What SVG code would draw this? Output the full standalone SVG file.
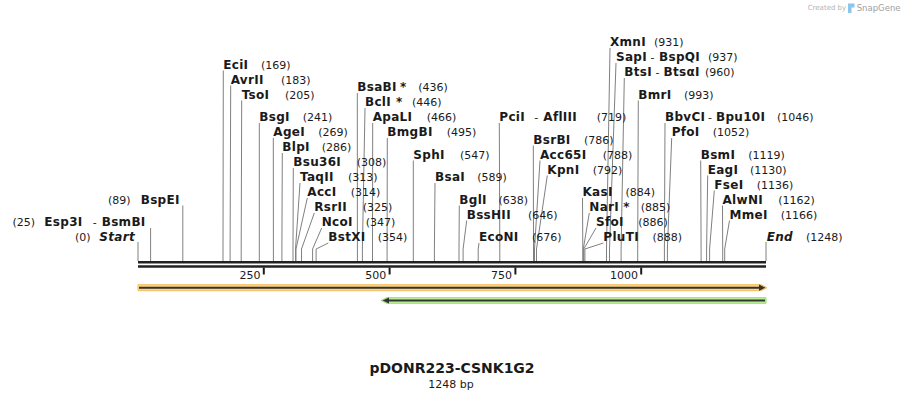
<svg xmlns="http://www.w3.org/2000/svg" width="905" height="400" viewBox="0 0 905 400">
<style>
text{font-family:"DejaVu Sans","Liberation Sans",sans-serif;fill:#1a1a1a}
.n{font-size:12px;font-weight:bold;letter-spacing:0.3px}
.p{font-size:11px}
.i{font-style:italic}
.ln{fill:none;stroke:#808080;stroke-width:1}
.tk{stroke:#1a1a1a;stroke-width:2}
.bb{stroke:#222;stroke-width:2.4}
.t{font-size:11px;text-anchor:end}
</style>
<rect width="905" height="400" fill="#fff"/>
<g id="credit">
<text x="807.7" y="10" style="font-size:7px;fill:#b3b3b3">Created by</text>
<path d="M848,3.5 h6.5 v4 h-3 v5.5 h-3.5 z" fill="#8cc6ec"/>
<text x="856.7" y="10.5" style="font-size:8.5px;fill:#a0a0a0">SnapGene</text>
</g>
<g id="features">
<path d="M138,284.7 H761 L767,287.7 L761,290.7 H138 Z" fill="#fcd48c" stroke="#f6be5a" stroke-width="1"/>
<line x1="139" y1="287.7" x2="760" y2="287.7" stroke="#333" stroke-width="2"/>
<path d="M759,284.6 L765.5,287.7 L759,290.8 Z" fill="#333"/>
<path d="M766,297.7 H387 L381,300.5 L387,303.3 H766 Z" fill="#bdf39a" stroke="#96e06a" stroke-width="1"/>
<line x1="388" y1="300.5" x2="765" y2="300.5" stroke="#333" stroke-width="2"/>
<path d="M389,297.4 L382.5,300.5 L389,303.6 Z" fill="#333"/>
</g>
<g id="connectors">
<polyline class="ln" points="138,242 138,261"/>
<polyline class="ln" points="150.6,228 150.6,261"/>
<polyline class="ln" points="182.8,205.5 182.8,261"/>
<polyline class="ln" points="223.3,70.5 223,249 223,261"/>
<polyline class="ln" points="230.7,85.5 230.1,249 230.1,261"/>
<polyline class="ln" points="241.7,100.5 241.2,249 241.2,261"/>
<polyline class="ln" points="259.3,123 259.3,261"/>
<polyline class="ln" points="273.3,138 273.4,249 273.4,261"/>
<polyline class="ln" points="282.3,153 281.9,249 281.9,261"/>
<polyline class="ln" points="293.3,168 293,249 293,261"/>
<polyline class="ln" points="300,183 295.5,249 295.5,261"/>
<polyline class="ln" points="307.3,198 296,249 296,261"/>
<polyline class="ln" points="314.3,213 301.5,249 301.5,261"/>
<polyline class="ln" points="321.7,228 312.6,249 312.6,261"/>
<polyline class="ln" points="328.3,243 316.1,249 316.1,261"/>
<polyline class="ln" points="357.3,93 357.4,249 357.4,261"/>
<polyline class="ln" points="365,108 362.4,249 362.4,261"/>
<polyline class="ln" points="372.7,123 372.5,249 372.5,261"/>
<polyline class="ln" points="387.3,138 387.1,249 387.1,261"/>
<polyline class="ln" points="413.3,160.5 413.3,261"/>
<polyline class="ln" points="435,183 434.4,249 434.4,261"/>
<polyline class="ln" points="459.3,205.5 459,249 459,261"/>
<polyline class="ln" points="466.7,220.5 463.1,249 463.1,261"/>
<polyline class="ln" points="479,243 478.2,249 478.2,261"/>
<polyline class="ln" points="499.3,123 499.8,249 499.8,261"/>
<polyline class="ln" points="533.3,145.5 533.5,249 533.5,261"/>
<polyline class="ln" points="540,160.5 534.5,249 534.5,261"/>
<polyline class="ln" points="547.3,175.5 536.5,249 536.5,261"/>
<polyline class="ln" points="582.5,198 582.8,249 582.8,261"/>
<polyline class="ln" points="589.3,213 583.3,249 583.3,261"/>
<polyline class="ln" points="596,228 583.8,249 583.8,261"/>
<polyline class="ln" points="603.3,243 584.9,249 584.9,261"/>
<polyline class="ln" points="610,48 606.5,249 606.5,261"/>
<polyline class="ln" points="616,63 609.5,249 609.5,261"/>
<polyline class="ln" points="624.3,78 621.1,249 621.1,261"/>
<polyline class="ln" points="638.3,100.5 637.7,249 637.7,261"/>
<polyline class="ln" points="665,123 664.4,249 664.4,261"/>
<polyline class="ln" points="671.7,138 667.4,249 667.4,261"/>
<polyline class="ln" points="700.7,160.5 701.1,249 701.1,261"/>
<polyline class="ln" points="707.7,175.5 706.6,249 706.6,261"/>
<polyline class="ln" points="714.3,190.5 709.6,249 709.6,261"/>
<polyline class="ln" points="722.5,205.5 722.7,249 722.7,261"/>
<polyline class="ln" points="729.5,220.5 724.7,249 724.7,261"/>
<polyline class="ln" points="766,242 766,261"/>
</g>
<g id="backbone">
<line class="bb" x1="138" y1="262.2" x2="766" y2="262.2"/>
<line class="bb" x1="138" y1="266.5" x2="766" y2="266.5"/>
<line class="tk" x1="263.8" y1="267.5" x2="263.8" y2="274.5"/>
<line class="tk" x1="389.6" y1="267.5" x2="389.6" y2="274.5"/>
<line class="tk" x1="515.4" y1="267.5" x2="515.4" y2="274.5"/>
<line class="tk" x1="641.2" y1="267.5" x2="641.2" y2="274.5"/>
<text class="t" x="260.5" y="278.5">250</text>
<text class="t" x="386.3" y="278.5">500</text>
<text class="t" x="512.1" y="278.5">750</text>
<text class="t" x="637.9" y="278.5">1000</text>
</g>
<g id="Start"><text class="p" x="75" y="241.4">(0)</text><text class="n i" x="99.3" y="241.4">Start</text></g>
<g id="Esp3I"><text class="p" x="12.5" y="226.4">(25)</text><text class="n" x="44.3" y="226.4">Esp3I</text><text class="p" x="92.7" y="226.4">-</text><text class="n" x="101.7" y="226.4">BsmBI</text></g>
<g id="BspEI"><text class="p" x="108" y="203.9">(89)</text><text class="n" x="140.7" y="203.9">BspEI</text></g>
<g id="EciI"><text class="n" x="223.3" y="68.9">EciI</text><text class="p" x="261" y="68.9">(169)</text></g>
<g id="AvrII"><text class="n" x="230.7" y="83.9">AvrII</text><text class="p" x="281" y="83.9">(183)</text></g>
<g id="TsoI"><text class="n" x="241.7" y="98.9">TsoI</text><text class="p" x="285" y="98.9">(205)</text></g>
<g id="BsgI"><text class="n" x="259.3" y="121.4">BsgI</text><text class="p" x="302.7" y="121.4">(241)</text></g>
<g id="AgeI"><text class="n" x="273.3" y="136.4">AgeI</text><text class="p" x="318.3" y="136.4">(269)</text></g>
<g id="BlpI"><text class="n" x="282.3" y="151.4">BlpI</text><text class="p" x="321.7" y="151.4">(286)</text></g>
<g id="Bsu36I"><text class="n" x="293.3" y="166.4">Bsu36I</text><text class="p" x="356.7" y="166.4">(308)</text></g>
<g id="TaqII"><text class="n" x="300" y="181.4">TaqII</text><text class="p" x="348" y="181.4">(313)</text></g>
<g id="AccI"><text class="n" x="307.3" y="196.4">AccI</text><text class="p" x="350.7" y="196.4">(314)</text></g>
<g id="RsrII"><text class="n" x="314.3" y="211.4">RsrII</text><text class="p" x="362.7" y="211.4">(325)</text></g>
<g id="NcoI"><text class="n" x="321.7" y="226.4">NcoI</text><text class="p" x="365.7" y="226.4">(347)</text></g>
<g id="BstXI"><text class="n" x="328.3" y="241.4">BstXI</text><text class="p" x="377.7" y="241.4">(354)</text></g>
<g id="BsaBI"><text class="n" x="357.3" y="91.4">BsaBI</text><text class="n" x="400" y="91.4">*</text><text class="p" x="418.3" y="91.4">(436)</text></g>
<g id="BclI"><text class="n" x="365" y="106.4">BclI</text><text class="n" x="396" y="106.4">*</text><text class="p" x="412" y="106.4">(446)</text></g>
<g id="ApaLI"><text class="n" x="372.7" y="121.4">ApaLI</text><text class="p" x="426.7" y="121.4">(466)</text></g>
<g id="BmgBI"><text class="n" x="387.3" y="136.4">BmgBI</text><text class="p" x="446.7" y="136.4">(495)</text></g>
<g id="SphI"><text class="n" x="413.3" y="158.9">SphI</text><text class="p" x="460" y="158.9">(547)</text></g>
<g id="BsaI"><text class="n" x="435" y="181.4">BsaI</text><text class="p" x="477.3" y="181.4">(589)</text></g>
<g id="BglI"><text class="n" x="459.3" y="203.9">BglI</text><text class="p" x="498.5" y="203.9">(638)</text></g>
<g id="BssHII"><text class="n" x="466.7" y="218.9">BssHII</text><text class="p" x="528" y="218.9">(646)</text></g>
<g id="EcoNI"><text class="n" x="479" y="241.4">EcoNI</text><text class="p" x="532" y="241.4">(676)</text></g>
<g id="PciI"><text class="n" x="499.3" y="121.4">PciI</text><text class="p" x="534.3" y="121.4">-</text><text class="n" x="543.3" y="121.4">AflIII</text><text class="p" x="596.7" y="121.4">(719)</text></g>
<g id="BsrBI"><text class="n" x="533.3" y="143.9">BsrBI</text><text class="p" x="584" y="143.9">(786)</text></g>
<g id="Acc65I"><text class="n" x="540" y="158.9">Acc65I</text><text class="p" x="602.7" y="158.9">(788)</text></g>
<g id="KpnI"><text class="n" x="547.3" y="173.9">KpnI</text><text class="p" x="592.7" y="173.9">(792)</text></g>
<g id="KasI"><text class="n" x="582.5" y="196.4">KasI</text><text class="p" x="625.5" y="196.4">(884)</text></g>
<g id="NarI"><text class="n" x="589.3" y="211.4">NarI</text><text class="n" x="623.3" y="211.4">*</text><text class="p" x="640.7" y="211.4">(885)</text></g>
<g id="SfoI"><text class="n" x="596" y="226.4">SfoI</text><text class="p" x="638.3" y="226.4">(886)</text></g>
<g id="PluTI"><text class="n" x="603.3" y="241.4">PluTI</text><text class="p" x="652.5" y="241.4">(888)</text></g>
<g id="XmnI"><text class="n" x="610" y="46.4">XmnI</text><text class="p" x="654" y="46.4">(931)</text></g>
<g id="SapI"><text class="n" x="616" y="61.4">SapI</text><text class="p" x="650.5" y="61.4">-</text><text class="n" x="659" y="61.4">BspQI</text><text class="p" x="708" y="61.4">(937)</text></g>
<g id="BtsI"><text class="n" x="624.3" y="76.4">BtsI</text><text class="p" x="655.5" y="76.4">-</text><text class="n" x="663.5" y="76.4">BtsαI</text><text class="p" x="705" y="76.4">(960)</text></g>
<g id="BmrI"><text class="n" x="638.3" y="98.9">BmrI</text><text class="p" x="684" y="98.9">(993)</text></g>
<g id="BbvCI"><text class="n" x="665" y="121.4">BbvCI</text><text class="p" x="708" y="121.4">-</text><text class="n" x="716" y="121.4">Bpu10I</text><text class="p" x="777" y="121.4">(1046)</text></g>
<g id="PfoI"><text class="n" x="671.7" y="136.4">PfoI</text><text class="p" x="712.7" y="136.4">(1052)</text></g>
<g id="BsmI"><text class="n" x="700.7" y="158.9">BsmI</text><text class="p" x="748.3" y="158.9">(1119)</text></g>
<g id="EagI"><text class="n" x="707.7" y="173.9">EagI</text><text class="p" x="750" y="173.9">(1130)</text></g>
<g id="FseI"><text class="n" x="714.3" y="188.9">FseI</text><text class="p" x="756.7" y="188.9">(1136)</text></g>
<g id="AlwNI"><text class="n" x="722.5" y="203.9">AlwNI</text><text class="p" x="778.3" y="203.9">(1162)</text></g>
<g id="MmeI"><text class="n" x="729.5" y="218.9">MmeI</text><text class="p" x="780.7" y="218.9">(1166)</text></g>
<g id="End"><text class="n i" x="766.7" y="241.4">End</text><text class="p" x="806" y="241.4">(1248)</text></g>
<g id="title">
<text x="452" y="373" text-anchor="middle" style="font-size:14px;font-weight:bold">pDONR223-CSNK1G2</text>
<text x="451" y="388" text-anchor="middle" style="font-size:11px">1248 bp</text>
</g>
</svg>
